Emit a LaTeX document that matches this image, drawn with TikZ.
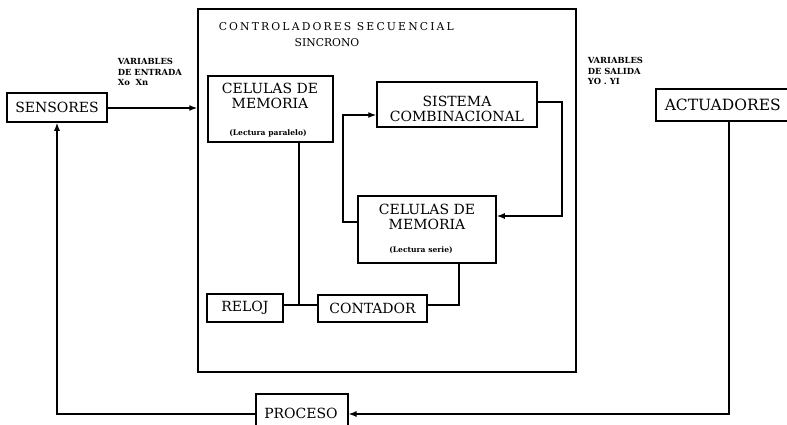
\documentclass[tikz,border=0pt]{standalone}
\usepackage{fontspec}
\setmainfont{DejaVu Serif}
\usetikzlibrary{arrows.meta}
\begin{document}
\begin{tikzpicture}[x=1pt,y=-1pt,
  line width=1.5pt,
  box/.style={draw,line width=1.5pt,inner sep=0pt,align=center},
  big/.style={font=\fontsize{14}{15}\selectfont},
  lbl/.style={inner sep=0pt,align=center,font=\fontsize{14}{15}\selectfont},
  tiny/.style={inner sep=0pt,font=\bfseries\fontsize{7.6}{8}\selectfont},
  varlbl/.style={inner sep=0pt,align=left,anchor=north west,font=\bfseries\fontsize{8.4}{10.5}\selectfont},
  arr/.style={-{Latex[length=8pt,width=6pt]}},
  conn/.style={line width=1.4pt}
]
\useasboundingbox (0,0) rectangle (787,424);
% controller
\node[box,minimum width=378pt,minimum height=363pt] (ctrl) at (387,190.5) {};
\node[inner sep=0pt,anchor=west,font=\fontsize{10.8}{12}\selectfont\addfontfeature{LetterSpace=20}] (title1) at (218,27) {CONTROLADORES SECUENCIAL};
\node[inner sep=0pt,font=\fontsize{10.8}{12}\selectfont] (title2) at (327,43) {SINCRONO};
% sensores
\node[box,big,minimum width=100pt,minimum height=29pt] (sens) at (57,107.5) {SENSORES};
\node[varlbl] (vin) at (117,58) {VARIABLES\\DE ENTRADA\\Xo\ \ Xn};
\node[varlbl] (vout) at (587,57) {VARIABLES\\DE SALIDA\\YO . YI};
% celulas 1
\node[box,minimum width=125pt,minimum height=66pt] (cel1) at (270.5,109) {};
\node[lbl] (cel1t) at (270,96) {CELULAS DE\\MEMORIA};
\node[tiny] (cel1s) at (268,133) {(Lectura paralelo)};
% sistema
\node[box,minimum width=160pt,minimum height=45pt] (sis) at (457,104.5) {};
\node[lbl] (sist) at (457,109) {SISTEMA\\COMBINACIONAL};
% celulas 2
\node[box,minimum width=138pt,minimum height=67pt] (cel2) at (427,229.5) {};
\node[lbl] (cel2t) at (427,217) {CELULAS DE\\MEMORIA};
\node[tiny] (cel2s) at (421,250) {(Lectura serie)};
% reloj, contador
\node[box,big,minimum width=76pt,minimum height=28pt] (rel) at (245,308) {RELOJ};
\node[box,big,minimum width=109pt,minimum height=27pt] (cont) at (372.5,308.5) {CONTADOR};
% actuadores, proceso
\node[box,font=\fontsize{15.5}{16}\selectfont,minimum width=140pt,minimum height=32pt,anchor=north west,text width=138pt,align=left] (act) at (655,88) {\hspace{8pt}ACTUADORES};
\node[box,big,minimum width=92pt,minimum height=40pt,anchor=north west] (proc) at (255,393) {};
\node[lbl] (proct) at (301,413) {PROCESO};
% coordinates
\coordinate (a1) at (729,414);
\coordinate (a2) at (57,414);
\coordinate (b1) at (343,222);
\coordinate (b2) at (343,115);
\coordinate (c1) at (562,102);
\coordinate (c2) at (562,216);
\coordinate (d1) at (299,305);
\coordinate (e1) at (459,305);
% connectors
\draw[conn,arr] (sens.east |- 0,108) -- (ctrl.west |- 0,108);
\draw[conn,arr] (act.south -| a1) -- (a1) -- (proc.east |- a1);
\draw[conn,arr] (proc.west |- a1) -- (a2) -- (sens.south -| a2);
\draw[conn,arr] (cel2.west |- b1) -- (b1) -- (b2) -- (sis.west |- b2);
\draw[conn,arr] (sis.east |- c1) -- (c1) -- (c2) -- (cel2.east |- c2);
\draw[conn] (cel1.south -| d1) -- (d1);
\draw[conn] (rel.east |- d1) -- (cont.west |- d1);
\draw[conn] (cont.east |- e1) -- (e1) -- (cel2.south -| e1);
\end{tikzpicture}
\end{document}
